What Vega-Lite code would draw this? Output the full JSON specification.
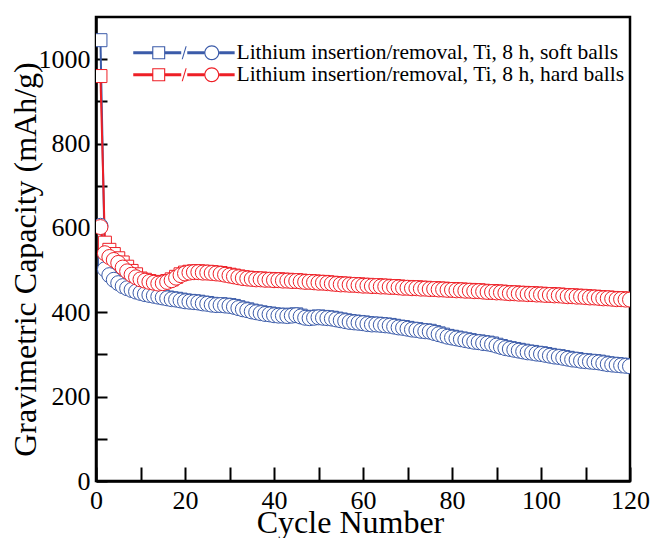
{
  "$schema": "https://vega.github.io/schema/vega-lite/v6.json",
  "width": 534,
  "height": 464,
  "autosize": "none",
  "padding": {"left": 96, "top": 17, "right": 22, "bottom": 57},
  "background": "white",
  "config": {
    "view": {"stroke": "black", "strokeWidth": 2.5},
    "font": "Liberation Serif"
  },
  "data": {
    "values": [
      {"c":1,"s":"soft","i":1045,"r":605},{"c":2,"s":"soft","i":520,"r":502},{"c":3,"s":"soft","i":500,"r":488},{"c":4,"s":"soft","i":488,"r":477},{"c":5,"s":"soft","i":478,"r":469},
      {"c":6,"s":"soft","i":470,"r":462},{"c":7,"s":"soft","i":464,"r":457},{"c":8,"s":"soft","i":459,"r":453},{"c":9,"s":"soft","i":452,"r":449},{"c":10,"s":"soft","i":448,"r":446},
      {"c":11,"s":"soft","i":445,"r":443},{"c":12,"s":"soft","i":443,"r":441},{"c":13,"s":"soft","i":441,"r":439},{"c":14,"s":"soft","i":439,"r":437},{"c":15,"s":"soft","i":437,"r":435},
      {"c":16,"s":"soft","i":435,"r":433},{"c":17,"s":"soft","i":433,"r":431},{"c":18,"s":"soft","i":432,"r":430},{"c":19,"s":"soft","i":430,"r":428},{"c":20,"s":"soft","i":428,"r":426},
      {"c":21,"s":"soft","i":427,"r":425},{"c":22,"s":"soft","i":426,"r":424},{"c":23,"s":"soft","i":425,"r":423},{"c":24,"s":"soft","i":423,"r":421},{"c":25,"s":"soft","i":422,"r":420},
      {"c":26,"s":"soft","i":420,"r":418},{"c":27,"s":"soft","i":419,"r":417},{"c":28,"s":"soft","i":419,"r":417},{"c":29,"s":"soft","i":418,"r":416},{"c":30,"s":"soft","i":417,"r":415},
      {"c":31,"s":"soft","i":415,"r":413},{"c":32,"s":"soft","i":412,"r":410},{"c":33,"s":"soft","i":409,"r":407},{"c":34,"s":"soft","i":407,"r":405},{"c":35,"s":"soft","i":404,"r":402},
      {"c":36,"s":"soft","i":402,"r":400},{"c":37,"s":"soft","i":400,"r":398},{"c":38,"s":"soft","i":398,"r":396},{"c":39,"s":"soft","i":397,"r":395},{"c":40,"s":"soft","i":395,"r":393},
      {"c":41,"s":"soft","i":394,"r":392},{"c":42,"s":"soft","i":394,"r":392},{"c":43,"s":"soft","i":393,"r":391},{"c":44,"s":"soft","i":394,"r":392},{"c":45,"s":"soft","i":395,"r":393},
      {"c":46,"s":"soft","i":392,"r":390},{"c":47,"s":"soft","i":389,"r":387},{"c":48,"s":"soft","i":388,"r":386},{"c":49,"s":"soft","i":389,"r":387},{"c":50,"s":"soft","i":390,"r":388},
      {"c":51,"s":"soft","i":389,"r":387},{"c":52,"s":"soft","i":388,"r":386},{"c":53,"s":"soft","i":387,"r":385},{"c":54,"s":"soft","i":385,"r":383},{"c":55,"s":"soft","i":383,"r":381},
      {"c":56,"s":"soft","i":381,"r":379},{"c":57,"s":"soft","i":379,"r":377},{"c":58,"s":"soft","i":378,"r":376},{"c":59,"s":"soft","i":377,"r":375},{"c":60,"s":"soft","i":376,"r":374},
      {"c":61,"s":"soft","i":374,"r":372},{"c":62,"s":"soft","i":373,"r":371},{"c":63,"s":"soft","i":373,"r":371},{"c":64,"s":"soft","i":372,"r":370},{"c":65,"s":"soft","i":371,"r":369},
      {"c":66,"s":"soft","i":370,"r":368},{"c":67,"s":"soft","i":368,"r":366},{"c":68,"s":"soft","i":366,"r":364},{"c":69,"s":"soft","i":365,"r":363},{"c":70,"s":"soft","i":363,"r":361},
      {"c":71,"s":"soft","i":361,"r":359},{"c":72,"s":"soft","i":360,"r":358},{"c":73,"s":"soft","i":358,"r":356},{"c":74,"s":"soft","i":357,"r":355},{"c":75,"s":"soft","i":356,"r":354},
      {"c":76,"s":"soft","i":353,"r":351},{"c":77,"s":"soft","i":350,"r":348},{"c":78,"s":"soft","i":347,"r":345},{"c":79,"s":"soft","i":344,"r":342},{"c":80,"s":"soft","i":342,"r":340},
      {"c":81,"s":"soft","i":340,"r":338},{"c":82,"s":"soft","i":338,"r":336},{"c":83,"s":"soft","i":336,"r":334},{"c":84,"s":"soft","i":334,"r":332},{"c":85,"s":"soft","i":332,"r":330},
      {"c":86,"s":"soft","i":331,"r":329},{"c":87,"s":"soft","i":329,"r":327},{"c":88,"s":"soft","i":328,"r":326},{"c":89,"s":"soft","i":326,"r":324},{"c":90,"s":"soft","i":323,"r":321},
      {"c":91,"s":"soft","i":320,"r":318},{"c":92,"s":"soft","i":317,"r":315},{"c":93,"s":"soft","i":315,"r":313},{"c":94,"s":"soft","i":313,"r":311},{"c":95,"s":"soft","i":311,"r":309},
      {"c":96,"s":"soft","i":309,"r":307},{"c":97,"s":"soft","i":307,"r":305},{"c":98,"s":"soft","i":306,"r":304},{"c":99,"s":"soft","i":304,"r":302},{"c":100,"s":"soft","i":303,"r":301},
      {"c":101,"s":"soft","i":301,"r":299},{"c":102,"s":"soft","i":299,"r":297},{"c":103,"s":"soft","i":297,"r":295},{"c":104,"s":"soft","i":296,"r":294},{"c":105,"s":"soft","i":294,"r":292},
      {"c":106,"s":"soft","i":292,"r":290},{"c":107,"s":"soft","i":290,"r":288},{"c":108,"s":"soft","i":289,"r":287},{"c":109,"s":"soft","i":287,"r":285},{"c":110,"s":"soft","i":286,"r":284},
      {"c":111,"s":"soft","i":285,"r":283},{"c":112,"s":"soft","i":284,"r":282},{"c":113,"s":"soft","i":283,"r":281},{"c":114,"s":"soft","i":281,"r":279},{"c":115,"s":"soft","i":279,"r":277},
      {"c":116,"s":"soft","i":278,"r":276},{"c":117,"s":"soft","i":277,"r":275},{"c":118,"s":"soft","i":276,"r":274},{"c":119,"s":"soft","i":275,"r":273},{"c":120,"s":"soft","i":274,"r":272},
      {"c":1,"s":"hard","i":960,"r":602},{"c":2,"s":"hard","i":565,"r":540},{"c":3,"s":"hard","i":548,"r":531},{"c":4,"s":"hard","i":538,"r":524},{"c":5,"s":"hard","i":528,"r":517},
      {"c":6,"s":"hard","i":518,"r":506},{"c":7,"s":"hard","i":508,"r":497},{"c":8,"s":"hard","i":498,"r":489},{"c":9,"s":"hard","i":490,"r":483},{"c":10,"s":"hard","i":480,"r":478},
      {"c":11,"s":"hard","i":477,"r":475},{"c":12,"s":"hard","i":474,"r":472},{"c":13,"s":"hard","i":472,"r":470},{"c":14,"s":"hard","i":470,"r":468},{"c":15,"s":"hard","i":471,"r":469},
      {"c":16,"s":"hard","i":474,"r":472},{"c":17,"s":"hard","i":478,"r":476},{"c":18,"s":"hard","i":484,"r":482},{"c":19,"s":"hard","i":490,"r":488},{"c":20,"s":"hard","i":494,"r":492},
      {"c":21,"s":"hard","i":496,"r":494},{"c":22,"s":"hard","i":497,"r":495},{"c":23,"s":"hard","i":497,"r":495},{"c":24,"s":"hard","i":496,"r":494},{"c":25,"s":"hard","i":496,"r":494},
      {"c":26,"s":"hard","i":495,"r":493},{"c":27,"s":"hard","i":494,"r":492},{"c":28,"s":"hard","i":493,"r":491},{"c":29,"s":"hard","i":491,"r":489},{"c":30,"s":"hard","i":489,"r":487},
      {"c":31,"s":"hard","i":487,"r":485},{"c":32,"s":"hard","i":485,"r":483},{"c":33,"s":"hard","i":483,"r":481},{"c":34,"s":"hard","i":482,"r":480},{"c":35,"s":"hard","i":481,"r":479},
      {"c":36,"s":"hard","i":480,"r":478},{"c":37,"s":"hard","i":480,"r":478},{"c":38,"s":"hard","i":479,"r":477},{"c":39,"s":"hard","i":479,"r":477},{"c":40,"s":"hard","i":478,"r":476},
      {"c":41,"s":"hard","i":478,"r":476},{"c":42,"s":"hard","i":477,"r":475},{"c":43,"s":"hard","i":477,"r":475},{"c":44,"s":"hard","i":476,"r":474},{"c":45,"s":"hard","i":476,"r":474},
      {"c":46,"s":"hard","i":475,"r":473},{"c":47,"s":"hard","i":474,"r":472},{"c":48,"s":"hard","i":474,"r":472},{"c":49,"s":"hard","i":473,"r":471},{"c":50,"s":"hard","i":472,"r":470},
      {"c":51,"s":"hard","i":472,"r":470},{"c":52,"s":"hard","i":471,"r":469},{"c":53,"s":"hard","i":470,"r":468},{"c":54,"s":"hard","i":469,"r":467},{"c":55,"s":"hard","i":468,"r":466},
      {"c":56,"s":"hard","i":468,"r":466},{"c":57,"s":"hard","i":467,"r":465},{"c":58,"s":"hard","i":467,"r":465},{"c":59,"s":"hard","i":466,"r":464},{"c":60,"s":"hard","i":465,"r":463},
      {"c":61,"s":"hard","i":465,"r":463},{"c":62,"s":"hard","i":464,"r":462},{"c":63,"s":"hard","i":464,"r":462},{"c":64,"s":"hard","i":463,"r":461},{"c":65,"s":"hard","i":463,"r":461},
      {"c":66,"s":"hard","i":462,"r":460},{"c":67,"s":"hard","i":462,"r":460},{"c":68,"s":"hard","i":461,"r":459},{"c":69,"s":"hard","i":460,"r":458},{"c":70,"s":"hard","i":460,"r":458},
      {"c":71,"s":"hard","i":459,"r":457},{"c":72,"s":"hard","i":459,"r":457},{"c":73,"s":"hard","i":458,"r":456},{"c":74,"s":"hard","i":458,"r":456},{"c":75,"s":"hard","i":457,"r":455},
      {"c":76,"s":"hard","i":457,"r":455},{"c":77,"s":"hard","i":456,"r":454},{"c":78,"s":"hard","i":456,"r":454},{"c":79,"s":"hard","i":455,"r":453},{"c":80,"s":"hard","i":455,"r":453},
      {"c":81,"s":"hard","i":454,"r":452},{"c":82,"s":"hard","i":454,"r":452},{"c":83,"s":"hard","i":453,"r":451},{"c":84,"s":"hard","i":453,"r":451},{"c":85,"s":"hard","i":452,"r":450},
      {"c":86,"s":"hard","i":452,"r":450},{"c":87,"s":"hard","i":451,"r":449},{"c":88,"s":"hard","i":450,"r":448},{"c":89,"s":"hard","i":450,"r":448},{"c":90,"s":"hard","i":449,"r":447},
      {"c":91,"s":"hard","i":449,"r":447},{"c":92,"s":"hard","i":448,"r":446},{"c":93,"s":"hard","i":447,"r":445},{"c":94,"s":"hard","i":447,"r":445},{"c":95,"s":"hard","i":446,"r":444},
      {"c":96,"s":"hard","i":446,"r":444},{"c":97,"s":"hard","i":445,"r":443},{"c":98,"s":"hard","i":445,"r":443},{"c":99,"s":"hard","i":444,"r":442},{"c":100,"s":"hard","i":444,"r":442},
      {"c":101,"s":"hard","i":443,"r":441},{"c":102,"s":"hard","i":443,"r":441},{"c":103,"s":"hard","i":442,"r":440},{"c":104,"s":"hard","i":442,"r":440},{"c":105,"s":"hard","i":441,"r":439},
      {"c":106,"s":"hard","i":440,"r":438},{"c":107,"s":"hard","i":440,"r":438},{"c":108,"s":"hard","i":439,"r":437},{"c":109,"s":"hard","i":439,"r":437},{"c":110,"s":"hard","i":438,"r":436},
      {"c":111,"s":"hard","i":437,"r":435},{"c":112,"s":"hard","i":437,"r":435},{"c":113,"s":"hard","i":436,"r":434},{"c":114,"s":"hard","i":435,"r":433},{"c":115,"s":"hard","i":435,"r":433},
      {"c":116,"s":"hard","i":434,"r":432},{"c":117,"s":"hard","i":433,"r":431},{"c":118,"s":"hard","i":433,"r":431},{"c":119,"s":"hard","i":432,"r":430},{"c":120,"s":"hard","i":432,"r":430}
    ]
  },
  "transform": [{"fold": ["i", "r"], "as": ["k", "v"]}],
  "encoding": {
    "x": {
      "field": "c", "type": "quantitative",
      "scale": {"domain": [0, 120], "nice": false, "zero": false},
      "axis": {
        "title": "Cycle Number",
        "values": [0,10,20,30,40,50,60,70,80,90,100,110,120],
        "labelExpr": "datum.value % 20 === 0 ? datum.label : ''",
        "grid": false,
        "domainColor": "black", "domainWidth": 2.5,
        "tickColor": "black", "tickWidth": 2,
        "tickSize": -14,
        "labelPadding": 20,
        "labelFont": "Liberation Serif", "labelFontSize": 26, "labelColor": "black", "labelFlush": false,
        "titleFont": "Liberation Serif", "titleFontSize": 32, "titleFontWeight": "normal", "titleColor": "black",
        "titleX": 254, "titleY": 51, "titleBaseline": "alphabetic",
        "encode": {"ticks": {"update": {"y2": {"signal": "datum.value % 20 === 0 ? -14 : -8"}}}}
      }
    },
    "y": {
      "field": "v", "type": "quantitative",
      "scale": {"domain": [0, 1100], "nice": false},
      "axis": {
        "title": "Gravimetric Capacity (mAh/g)",
        "values": [0,100,200,300,400,500,600,700,800,900,1000],
        "labelExpr": "datum.value % 200 === 0 ? datum.label : ''",
        "format": "d",
        "grid": false,
        "domainColor": "black", "domainWidth": 2.5,
        "tickColor": "black", "tickWidth": 2,
        "tickSize": -11,
        "labelPadding": 17,
        "labelFont": "Liberation Serif", "labelFontSize": 26, "labelColor": "black", "labelFlush": false,
        "titleFont": "Liberation Serif", "titleFontSize": 32, "titleFontWeight": "normal", "titleColor": "black",
        "titleX": -61, "titleY": 242, "titleBaseline": "alphabetic", "titleAlign": "center",
        "encode": {"ticks": {"update": {"x2": {"signal": "datum.value % 200 === 0 ? 11 : 7"}}}}
      }
    },
    "stroke": {
      "field": "s", "type": "nominal",
      "scale": {"domain": ["soft", "hard"], "range": ["#3b5ba9", "#ee1f26"]},
      "legend": {
        "orient": "none", "legendX": 33, "legendY": 25,
        "title": null, "padding": 0,
        "symbolType": "M-1,-0.22H1.92V0.22H-1Z M1.92,-1H3.92V1H1.92Z M2.09,-0.83V0.83H3.75V-0.83Z M3.92,-0.22H6.38V0.22H3.92Z M6.45,1L7.05,-1H7.22L6.62,1Z M7.31,-0.22H9.93V0.22H7.31Z M9.93,0A1.15,1.15 0 0 1 12.23,0A1.15,1.15 0 0 1 9.93,0Z M10.1,0A0.98,0.98 0 0 0 12.06,0A0.98,0.98 0 0 0 10.1,0Z M12.23,-0.22H14.6V0.22H12.23Z",
        "symbolSize": 169, "symbolStrokeWidth": 0,
        "labelFont": "Liberation Serif", "labelFontSize": 21.5, "labelColor": "black",
        "labelOffset": 86, "rowPadding": -2, "labelLimit": 500,
        "labelExpr": "'Lithium insertion/removal, Ti, 8 h, ' + datum.label + ' balls'",
        "encode": {"symbols": {"update": {"fill": {"scale": "stroke", "field": "value"}, "stroke": {"value": "transparent"}, "opacity": {"value": 1}}}}
      }
    }
  },
  "layer": [
    {"transform": [{"filter": "datum.k === 'i'"}], "mark": {"type": "line", "strokeWidth": 2, "clip": true}},
    {"transform": [{"filter": "datum.k === 'r'"}], "mark": {"type": "line", "strokeWidth": 2, "clip": true}},
    {"transform": [{"filter": "datum.k === 'i'"}], "mark": {"type": "point", "shape": "square", "size": 169, "filled": true, "fill": "white", "strokeWidth": 1, "opacity": 1, "clip": true}},
    {"transform": [{"filter": "datum.k === 'r'"}], "mark": {"type": "point", "shape": "circle", "size": 225, "filled": true, "fill": "white", "strokeWidth": 1, "opacity": 1, "clip": true}}
  ]
}
